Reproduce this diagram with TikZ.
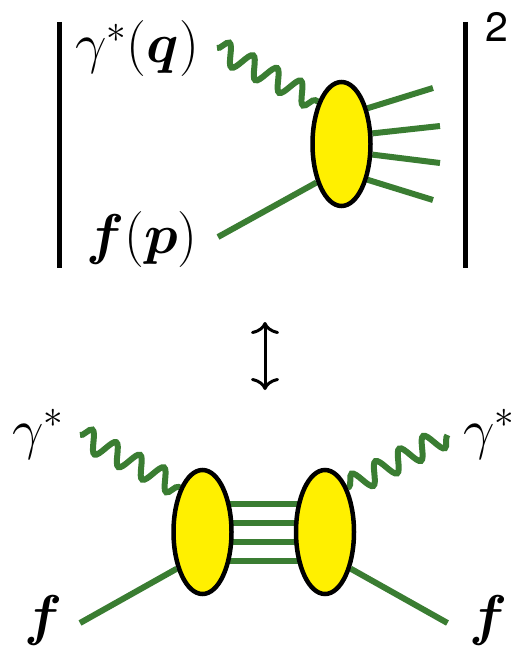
\documentclass[tikz,border=0pt]{standalone}
\usepackage{amsmath}
\usepackage{fix-cm}
\usepackage{fontspec}
\newfontfamily\herosfont{TeX Gyre Heros}
\usetikzlibrary{shapes.geometric,decorations.pathmorphing,arrows.meta}
\definecolor{lineg}{RGB}{58,125,50}
\definecolor{blobyellow}{RGB}{255,240,0}
\pgfdeclarelayer{bg}
\pgfsetlayers{bg,main}
\tikzset{
  gl/.style={line width=6pt, draw=lineg},
  photon/.style={gl, decorate, decoration={snake, segment length=27pt, amplitude=10.5pt}},
  blob/.style={ellipse, draw=black, line width=4.5pt, fill=blobyellow,
               minimum width=58pt, minimum height=124pt, inner sep=0pt},
  lbl/.style={inner sep=0pt, anchor=base west, font=\fontsize{56}{60}\selectfont},
  bar/.style={line width=5pt, draw=black},
  cmtip/.tip={Computer Modern Rightarrow[length=12pt,width=28pt]},
}
\begin{document}
\begin{tikzpicture}[x=1pt,y=-1pt]
\useasboundingbox (0,0) rectangle (525,650);

% ---------- top: squared amplitude ----------
\coordinate (b1t) at (59.5,22);  \coordinate (b1b) at (59.5,268);
\coordinate (b2t) at (465.5,22); \coordinate (b2b) at (465.5,268);
\draw[bar] (b1t) -- (b1b);
\draw[bar] (b2t) -- (b2b);
\node[inner sep=0pt, anchor=base west, font=\herosfont\fontsize{41}{45}\selectfont] (sq) at (485,42) {2};

\node[blob] (T) at (341.5,144) {};
\node[lbl] (gq) at (75,63) {$\gamma^*(\boldsymbol{q})$};
\node[lbl] (fp) at (86,253) {$\boldsymbol{f}(\boldsymbol{p})$};

\coordinate (gin) at (217,48);
\coordinate (fin) at (218,237);
\coordinate (o1) at (433,88);
\coordinate (o2) at (440,126);
\coordinate (o3) at (440,163);
\coordinate (o4) at (433,200);
\begin{pgfonlayer}{bg}
  \draw[photon] (gin) -- (T.119);
  \draw[gl] (fin) -- (T.237);
  \draw[gl] (T.54) -- (o1);
  \draw[gl] (T.19) -- (o2);
  \draw[gl] (T.-19) -- (o3);
  \draw[gl] (T.-54) -- (o4);
\end{pgfonlayer}

% ---------- arrow ----------
\coordinate (a1) at (265,322);
\coordinate (a2) at (265,390);
\draw[line width=3pt, cmtip-cmtip] (a1) -- (a2);

% ---------- bottom: forward amplitude ----------
\node[blob] (L) at (202.5,532) {};
\node[blob] (R) at (325,532) {};
\node[lbl] (gl1) at (12,448) {$\gamma^*$};
\node[lbl] (gr1) at (463,448) {$\gamma^*$};
\node[lbl] (fl1) at (24,634) {$\boldsymbol{f}$};
\node[lbl] (fr1) at (469,634) {$\boldsymbol{f}$};

\coordinate (pl) at (80,435);
\coordinate (pr) at (447.5,435);
\coordinate (ql) at (80,623);
\coordinate (qr) at (447.5,623);
\begin{pgfonlayer}{bg}
  \draw[photon] (pl) -- (L.117);
  \draw[photon] (pr) -- (R.63);
  \draw[gl] (ql) -- (L.235);
  \draw[gl] (qr) -- (R.305);
  \foreach \dy in {-28.5,-9.5,9.5,28.5}
    \draw[gl] ([yshift=\dy pt]L.center) -- ([yshift=\dy pt]R.center);
\end{pgfonlayer}
\end{tikzpicture}
\end{document}
